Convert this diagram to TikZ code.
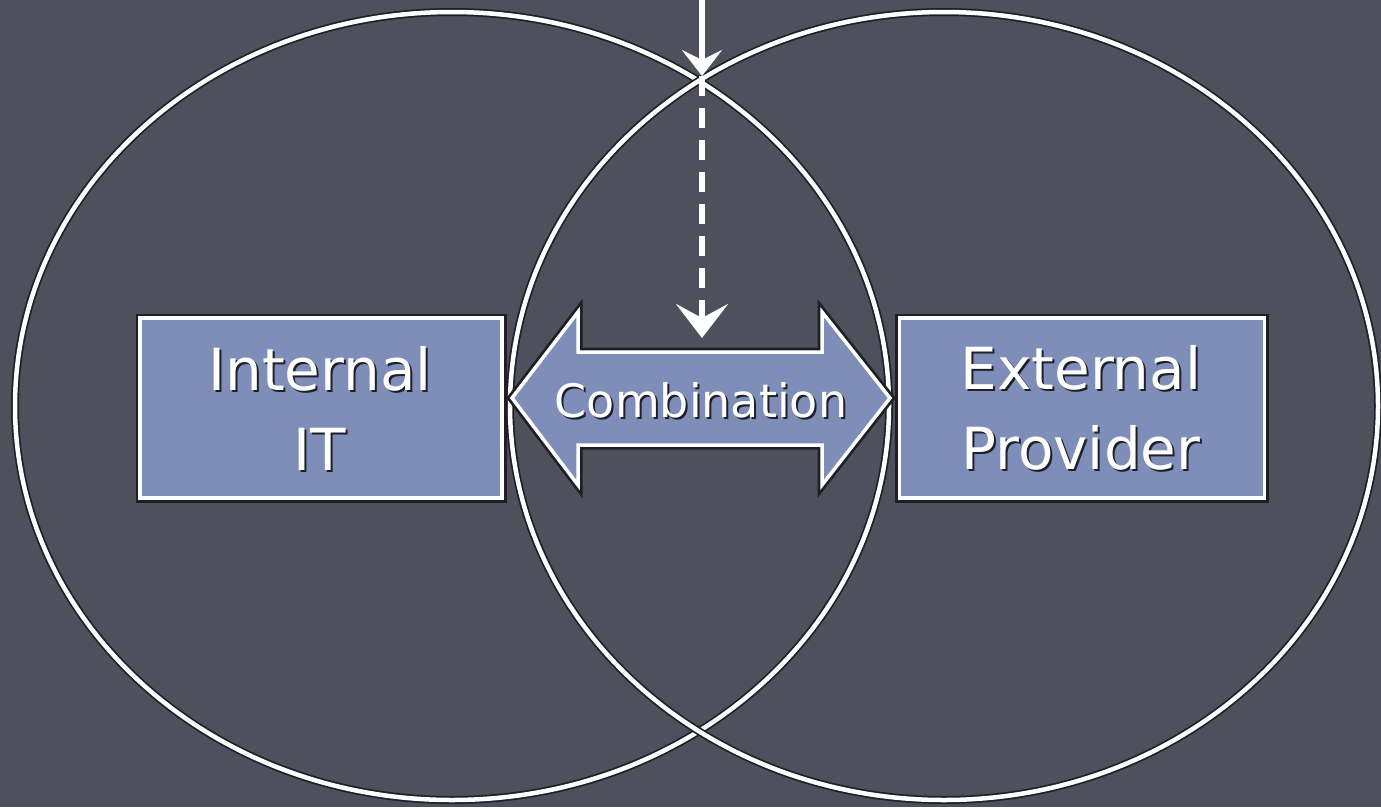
\documentclass[tikz,border=0pt]{standalone}
\usepackage{fontspec}
\setmainfont{DejaVu Sans}
\usetikzlibrary{arrows.meta}
\definecolor{board}{RGB}{78,81,92}
\definecolor{boxblue}{RGB}{126,142,184}
\definecolor{halo}{RGB}{30,32,40}
\tikzset{
  chalk/.style={draw=white, line width=4.5pt, preaction={draw=halo, line width=8pt}},
  bluebox/.style={fill=boxblue, draw=white, line width=3.5pt, preaction={draw=halo, line width=9pt}},
  lbl/.style={text=white, font=\fontsize{58}{80}\selectfont, align=center},
  lblsh/.style={text=halo, font=\fontsize{58}{80}\selectfont, align=center},
  clbl/.style={text=white, font=\fontsize{46}{60}\selectfont},
  clblsh/.style={text=halo, font=\fontsize{46}{60}\selectfont},
  pointer/.style={draw=white, line width=5.5pt},
}
\begin{document}
\begin{tikzpicture}[x=1pt,y=-1pt]
\fill[board] (0,0) rectangle (1381,807);
\useasboundingbox (0,0) rectangle (1381,807);
% ellipses
\draw[chalk] (452,406) ellipse [x radius=437pt, y radius=394pt];
\draw[chalk] (944,406) ellipse [x radius=434pt, y radius=394pt];
% boxes
\node[bluebox, minimum width=362pt, minimum height=180pt, inner sep=0pt] (intbox) at (321,408) {};
\node[bluebox, minimum width=365pt, minimum height=180pt, inner sep=0pt] (extbox) at (1082,408) {};
% double arrow
\draw[bluebox] (512,398) -- (578,312) -- (578,352) -- (822,352) -- (822,312) -- (890,398)
  -- (822,485) -- (822,445) -- (578,445) -- (578,485) -- cycle;
% labels
\node[lblsh] at (322,410) {Internal\\IT};
\node[lbl] (intlbl) at (320,408) {Internal\\IT};
\node[lblsh] at (1083,410) {External\\Provider};
\node[lbl] (extlbl) at (1081,408) {External\\Provider};
\node[clblsh] at (703,402) {Combination};
\node[clbl] (comb) at (701,400) {Combination};
% pointer arrows
\coordinate (src) at (702,0);
\coordinate (cross) at (702,76);
\coordinate (dtip) at (702,338);
\draw[pointer, -{Stealth[length=26pt, width=40pt, inset=10pt]}] (src) -- (cross);
\draw[pointer, dash pattern=on 20pt off 12pt, -{Stealth[length=34pt, width=52pt, inset=14pt]}] (cross) -- (dtip);
\end{tikzpicture}
\end{document}
